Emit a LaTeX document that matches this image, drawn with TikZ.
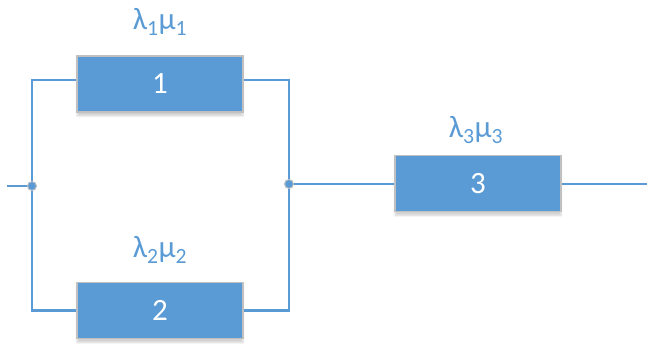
\documentclass[tikz,border=0pt]{standalone}
\usepackage{fontspec}
\setmainfont{Carlito}
\usetikzlibrary{positioning,shadows.blur}
\definecolor{blk}{HTML}{5B9BD5}
\definecolor{rim}{HTML}{C0C0C0}
\tikzset{
  unit/.style={draw=rim, line width=1.5pt, fill=blk, minimum width=166pt,
    minimum height=56pt, text=white, font=\fontsize{31}{36}\selectfont,
    blur shadow={shadow xshift=0pt, shadow yshift=-4pt, shadow opacity=18,
      shadow blur steps=6}},
  rate/.style={text=blk, font=\fontsize{31}{36}\selectfont},
  wire/.style={draw=blk, line width=2.8pt},
  joint/.style={circle, fill=blk, draw=rim, line width=1pt, inner sep=0pt,
    minimum size=9pt},
}
\begin{document}
\begin{tikzpicture}[x=1pt, y=-1pt]
\useasboundingbox (0,0) rectangle (647,344);
% bloques
\node[unit] (b1) at (160,84) {1};
\node[unit] (b2) at (160,310.5) {2};
\node[unit] (b3) at (478,183.5) {3};
% tasas
\node[rate] (r1) at (160,22) {λ\textsubscript{1}μ\textsubscript{1}};
\node[rate] (r2) at (160,250) {λ\textsubscript{2}μ\textsubscript{2}};
\node[rate] (r3) at (476,130) {λ\textsubscript{3}μ\textsubscript{3}};
% puntos de union
\coordinate (in) at (7,186);
\coordinate (jl) at (32,186);
\coordinate (jr) at (289,184);
\coordinate (out) at (647,184);
% conexiones
\draw[wire] (in) -- (jl);
\draw[wire] ([yshift=4pt]b1.west) -| (jl) |- (b2.west);
\draw[wire] ([yshift=4pt]b1.east) -| (jr) |- (b2.east);
\draw[wire] (jr) -- (b3.west |- jr);
\draw[wire] (b3.east |- out) -- (out);
\node[joint] (dl) at (jl) {};
\node[joint] (dr) at (jr) {};
\end{tikzpicture}
\end{document}
